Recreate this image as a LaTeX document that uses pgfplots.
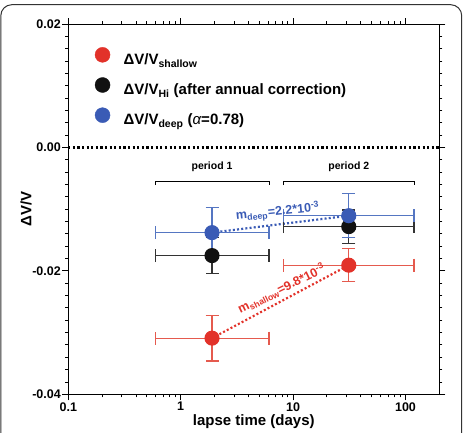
\documentclass[border=0pt]{standalone}
\usepackage{fontspec}
\setmainfont{Liberation Sans}
\usepackage{pgfplots}
\pgfplotsset{compat=1.18}

\definecolor{shallowred}{HTML}{E2322A}
\definecolor{shallowbar}{HTML}{E55A4E}
\definecolor{deepblue}{HTML}{3A5BB5}
\definecolor{deepbar}{HTML}{5576C2}
\definecolor{hiblack}{HTML}{111111}
\definecolor{hibar}{HTML}{333333}
\definecolor{framegray}{HTML}{333333}

\begin{document}
\begin{tikzpicture}[x=1pt,y=1pt]
\useasboundingbox (0,0) rectangle (465,432);
% outer rounded frame
\draw[framegray, line width=1pt, rounded corners=11pt] (0.8,-20) rectangle (461.7,427.3);

\begin{axis}[
  at={(68.3pt,37.7pt)}, anchor=south west,
  scale only axis, width=371pt, height=370.3pt,
  xmode=log, xmin=0.1, xmax=200,
  ymin=-0.04, ymax=0.02,
  xtick={0.1,1,10,100}, xticklabels={0.1,1,10,100},
  ytick={-0.04,-0.02,0,0.02}, yticklabels={-0.04,-0.02,0.00,0.02},
  scaled y ticks=false,
  minor y tick num=9,
  tick align=outside,
  major tick length=6pt, minor tick length=3pt,
  axis line style={line width=1pt},
  every tick/.style={line width=0.9pt, black},
  ticklabel style={font=\bfseries\fontsize{12.5}{14}\selectfont},
  xticklabel style={yshift=1.5pt},
  yticklabel style={xshift=2pt},
  xlabel={lapse time (days)}, ylabel={ΔV/V},
  label style={font=\bfseries\fontsize{15}{17}\selectfont},
  xlabel style={at={(axis description cs:0.5,-0.0748)}, anchor=center},
  ylabel style={at={(axis description cs:-0.114,0.5)}, anchor=center, rotate=0},
  clip=false,
  legend style={draw=none, fill=none, at={(axis description cs:0.0635,0.943)}, anchor=north west,
    font=\bfseries\fontsize{15}{17}\selectfont, row sep=11.5pt, column sep=13.5pt,
    nodes={inner sep=0pt}},
  legend cell align=left,
  legend image code/.code={\draw[#1] plot coordinates {(0pt,5pt)};},
]
% legend entries
\addlegendimage{only marks, mark=*, mark size=7.5pt, shallowred, mark options={draw=shallowred, fill=shallowred}}
\addlegendentry{ΔV/V\textsubscript{shallow}}
\addlegendimage{only marks, mark=*, mark size=7.5pt, hiblack, mark options={draw=hiblack, fill=hiblack}}
\addlegendentry{ΔV/V\textsubscript{Hi} (after annual correction)}
\addlegendimage{only marks, mark=*, mark size=7.5pt, deepblue, mark options={draw=deepblue, fill=deepblue}}
\addlegendentry{ΔV/V\textsubscript{deep} ({\mdseries\itshape α}=0.78)}

% zero line
\addplot[forget plot, black, line width=2.2pt, dash pattern=on 2.2pt off 2.4pt]
  coordinates {(0.1,0) (200,0)};

% period brackets
\addplot[forget plot, black, line width=0.9pt]
  coordinates {(0.6,-0.0061) (0.6,-0.00545) (6.1,-0.00545) (6.1,-0.0061)};
\addplot[forget plot, black, line width=0.9pt]
  coordinates {(8.2,-0.0061) (8.2,-0.00545) (119,-0.00545) (119,-0.0061)};
\node[font=\bfseries\fontsize{10.5}{12}\selectfont] at (axis cs:1.9,-0.0032) {period 1};
\node[font=\bfseries\fontsize{10.5}{12}\selectfont] at (axis cs:31.3,-0.0032) {period 2};

% trend lines between periods
\addplot[forget plot, deepblue, line width=2.2pt, dash pattern=on 2pt off 2.2pt]
  coordinates {(1.9,-0.0138) (31.3,-0.01106)};
\addplot[forget plot, shallowred, line width=2.2pt, dash pattern=on 2pt off 2.2pt]
  coordinates {(1.9,-0.0309) (31.3,-0.01908)};

% dV/V Hi
\addplot[forget plot, only marks, mark=*, mark size=7pt, color=hibar, line width=1.1pt,
  mark options={draw=hiblack, fill=hiblack},
  error bars/.cd, x dir=both, y dir=both, x explicit, y explicit,
  error bar style={hibar, line width=1.1pt},
  error mark options={rotate=90, mark size=6.5pt, hibar, line width=1.1pt}]
  coordinates {
    (1.9,-0.01752) += (4.2,0.0029) -= (1.3,0.0029)
    (31.3,-0.01283) += (87.7,0.0027) -= (23.1,0.0027)
  };

% dV/V shallow
\addplot[forget plot, only marks, mark=*, mark size=7pt, color=shallowbar, line width=1.1pt,
  mark options={draw=shallowred, fill=shallowred},
  error bars/.cd, x dir=both, y dir=both, x explicit, y explicit,
  error bar style={shallowbar, line width=1.1pt},
  error mark options={rotate=90, mark size=6.5pt, shallowbar, line width=1.1pt}]
  coordinates {
    (1.9,-0.0309) += (4.2,0.0037) -= (1.3,0.0037)
    (31.3,-0.01908) += (87.7,0.0027) -= (23.1,0.0027)
  };

% dV/V deep
\addplot[forget plot, only marks, mark=*, mark size=7pt, color=deepbar, line width=1.1pt,
  mark options={draw=deepblue, fill=deepblue},
  error bars/.cd, x dir=both, y dir=both, x explicit, y explicit,
  error bar style={deepbar, line width=1.1pt},
  error mark options={rotate=90, mark size=6.5pt, deepbar, line width=1.1pt}]
  coordinates {
    (1.9,-0.0138) += (4.2,0.0040) -= (1.3,0.0040)
    (31.3,-0.01106) += (87.7,0.0036) -= (23.1,0.0036)
  };

% slope annotations
\node[deepblue, rotate=6, font=\bfseries\fontsize{12.5}{14}\selectfont]
  at (axis cs:7.3,-0.0105) {m\textsubscript{deep}=2.2*10\textsuperscript{-3}};
\node[shallowred, rotate=26, font=\bfseries\fontsize{12.5}{14}\selectfont]
  at (axis cs:7.9,-0.0229) {m\textsubscript{shallow}=9.8*10\textsuperscript{-3}};
\end{axis}
\end{tikzpicture}
\end{document}
